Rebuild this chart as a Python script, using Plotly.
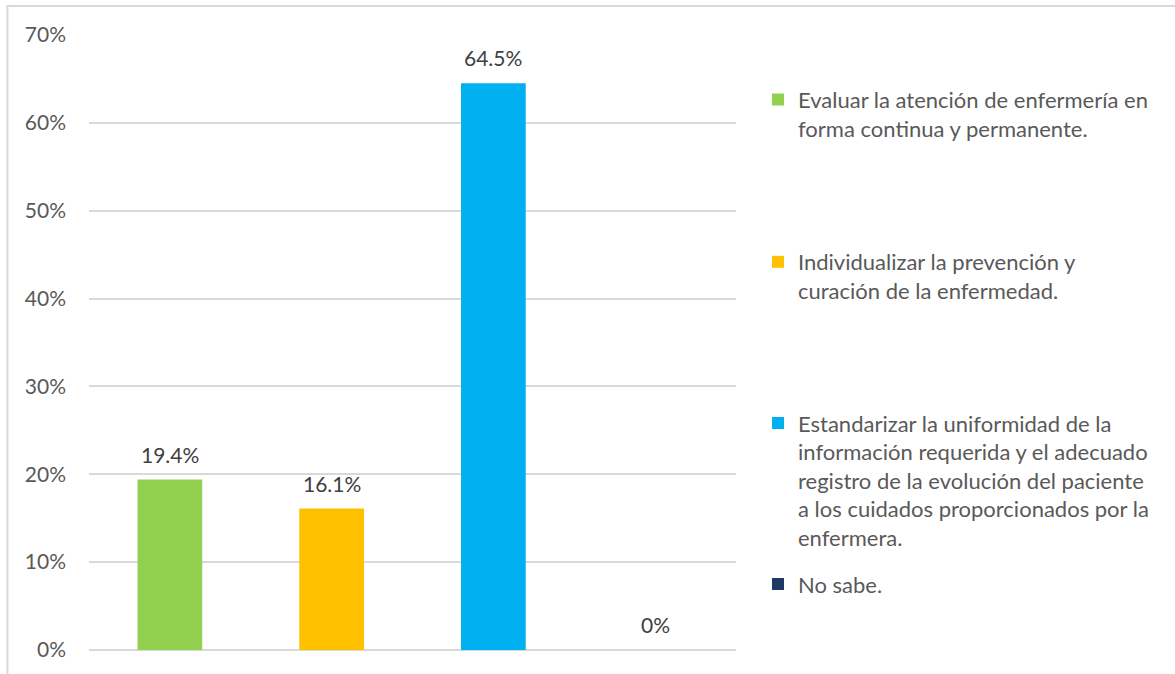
import plotly.graph_objects as go

# Survey answers and their share of respondents (%)
categories = [
    "Evaluar la atención de enfermería en<br>forma continua y permanente.",
    "Individualizar la prevención y<br>curación de la enfermedad.",
    "Estandarizar la uniformidad de la<br>información requerida y el adecuado<br>registro de la evolución del paciente<br>a los cuidados proporcionados por la<br>enfermera.",
    "No sabe.",
]
values = [19.4, 16.1, 64.5, 0]
colors = ["#92D050", "#FFC000", "#00B0F0", "#1F3864"]
y_ticks = [0, 10, 20, 30, 40, 50, 60, 70]

FONT = "Lato, 'Open Sans', sans-serif"
legend_names = ["legend", "legend2", "legend3", "legend4"]
legend_tops = [0.929, 0.665, 0.403, 0.141]

fig = go.Figure()
for i, (cat, val, col) in enumerate(zip(categories, values, colors)):
    fig.add_trace(go.Bar(
        x=[i], y=[val], name=cat,
        marker=dict(color=col, line=dict(width=0)),
        width=0.4,
        legend=legend_names[i],
        hoverinfo="skip",
    ))

# value labels sitting above each bar
annotations = [
    dict(x=i, y=val, xref="x", yref="y", text=f"{val:g}%", showarrow=False,
         yanchor="bottom", yshift=11,
         font=dict(family=FONT, size=21, color="#404040"))
    for i, val in enumerate(values)
]

layout_legends = {}
for name, top in zip(legend_names, legend_tops):
    layout_legends[name] = dict(
        x=1.034, y=top, xanchor="left", yanchor="top",
        font=dict(family=FONT, size=22, color="#595959"),
        bgcolor="rgba(0,0,0,0)", valign="top",
        itemclick=False, itemdoubleclick=False,
    )

fig.update_layout(
    width=1175, height=674,
    margin=dict(l=89, r=439, t=35, b=24),
    paper_bgcolor="white", plot_bgcolor="white",
    barmode="overlay",
    showlegend=True,
    xaxis=dict(range=[-0.5, 3.5], showticklabels=False, showgrid=False,
               zeroline=False, showline=False, fixedrange=True),
    yaxis=dict(range=[0, 70], tickmode="array", tickvals=y_ticks,
               ticktext=[f"{v}%" for v in y_ticks],
               tickfont=dict(family=FONT, size=21, color="#595959"),
               gridcolor="#D9D9D9", gridwidth=1.5,
               zeroline=True, zerolinecolor="#D9D9D9", zerolinewidth=1.5,
               showline=False, ticklabelstandoff=22, fixedrange=True),
    annotations=annotations,
    shapes=[dict(type="rect", xref="paper", yref="paper",
                 x0=-0.126, x1=1.7, y0=-0.2, y1=1.047,
                 line=dict(color="#D9D9D9", width=2), layer="below")],
    **layout_legends,
)

fig.write_html("out.html")
